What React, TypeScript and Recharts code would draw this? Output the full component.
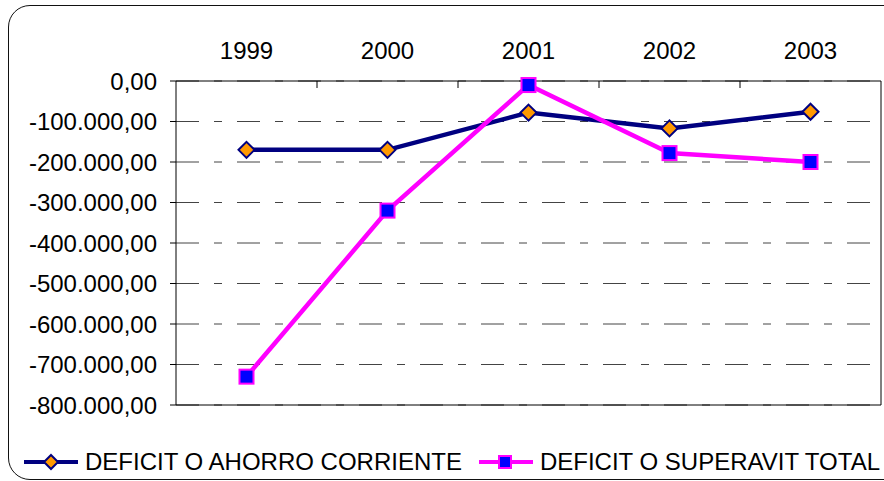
import React from "react";
import { LineChart, Line, XAxis, YAxis, CartesianGrid, Legend, ReferenceLine } from "recharts";

const categories = ["1999", "2000", "2001", "2002", "2003"];
const ahorroCorriente = [-170000, -170000, -78000, -117000, -76000];
const superavitTotal = [-730000, -320000, -10000, -178000, -200000];
const yTicks = [0, -100000, -200000, -300000, -400000, -500000, -600000, -700000, -800000];

const SERIES_A = "DEFICIT O AHORRO CORRIENTE";
const SERIES_B = "DEFICIT O SUPERAVIT TOTAL";

const data = categories.map((year, i) => ({
  year,
  ahorro: ahorroCorriente[i],
  superavit: superavitTotal[i],
}));

const W = 884;
const H = 481;
const FONT = "'Liberation Sans', Arial, sans-serif";
const TOP_MARGIN = 22;

const fmt = (v: number) => {
  const s = Math.abs(v).toFixed(0).replace(/\B(?=(\d{3})+(?!\d))/g, ".");
  return (v < 0 ? "-" : "") + s + ",00";
};

const Diamond = ({ cx, cy, r = 8 }: any) => (
  <path
    d={`M${cx},${cy - r} L${cx + r},${cy} L${cx},${cy + r} L${cx - r},${cy} Z`}
    fill="#FF9900"
    stroke="#000080"
    strokeWidth={2}
  />
);

const Square = ({ cx, cy, r = 7 }: any) => (
  <rect x={cx - r} y={cy - r} width={r * 2} height={r * 2} fill="#0000FF" stroke="#FF00FF" strokeWidth={2} />
);

const TopTick = (props: any) => {
  const { x, y, payload, index } = props;
  const half = payload.offset || (W - 176 - 3) / categories.length / 2;
  const axisY = y + TOP_MARGIN;
  return (
    <g>
      <text x={x} y={y} textAnchor="middle" fontSize={24} fontFamily={FONT} fill="#000">
        {payload.value}
      </text>
      {index < categories.length - 1 && (
        <line x1={x + half} x2={x + half} y1={axisY} y2={axisY + 7} stroke="#000" strokeWidth={1} />
      )}
    </g>
  );
};

const LegendContent = () => {
  const item = (name: string, color: string, marker: React.ReactNode, ml: number) => (
    <div style={{ display: "flex", alignItems: "center", marginLeft: ml, flexShrink: 0 }}>
      <svg width={56} height={24}>
        <line x1={1} x2={55} y1={12} y2={12} stroke={color} strokeWidth={4} />
        {marker}
      </svg>
      <span style={{ marginLeft: 6, fontSize: 24, lineHeight: "24px", fontFamily: FONT, color: "#000", whiteSpace: "nowrap" }}>
        {name}
      </span>
    </div>
  );
  return (
    <div style={{ display: "flex", width: W + 40 }}>
      {item(SERIES_A, "#000080", <Diamond cx={28} cy={12} r={7} />, 23)}
      {item(SERIES_B, "#FF00FF", <Square cx={27} cy={12} r={6} />, 16)}
    </div>
  );
};

export default function App() {
  return (
    <div style={{ position: "fixed", left: 0, top: 0, width: W, height: H, overflow: "hidden", background: "#fff" }}>
      <div
        style={{
          position: "absolute",
          left: 8,
          top: 5,
          width: 920,
          height: 473,
          border: "1.5px solid #111",
          borderRadius: 22,
        }}
      />
      <div style={{ position: "absolute", left: 0, top: 0 }}>
        <LineChart width={W} height={H} data={data} margin={{ top: 0, right: 0, left: 0, bottom: 76 }}>
          <CartesianGrid vertical={false} stroke="#444" strokeDasharray="23 15 8 15" />
          <XAxis
            dataKey="year"
            orientation="top"
            scale="band"
            height={81}
            axisLine={{ stroke: "#000" }}
            tickLine={false}
            tickSize={0}
            tickMargin={TOP_MARGIN}
            tick={<TopTick />}
            interval={0}
          />
          <YAxis
            domain={[-800000, 0]}
            ticks={yTicks}
            width={176}
            interval={0}
            tickFormatter={fmt}
            axisLine={{ stroke: "#000" }}
            tickLine={{ stroke: "#000" }}
            tickSize={6}
            tickMargin={13}
            tick={{ fontSize: 24, fontFamily: FONT, fill: "#000" }}
          />
          <YAxis yAxisId="r" orientation="right" width={3} domain={[0, 1]} tick={false} tickLine={false} axisLine={{ stroke: "#000" }} />
          <ReferenceLine y={-800000} stroke="#000" />
          <Legend
            verticalAlign="middle"
            layout="horizontal"
            wrapperStyle={{ top: 450, left: 0, width: W }}
            content={<LegendContent />}
          />
          <Line
            dataKey="ahorro"
            name={SERIES_A}
            stroke="#000080"
            strokeWidth={4.5}
            dot={(p: any) => <Diamond key={`a${p.index}`} cx={p.cx} cy={p.cy} />}
            isAnimationActive={false}
          />
          <Line
            dataKey="superavit"
            name={SERIES_B}
            stroke="#FF00FF"
            strokeWidth={4.5}
            dot={(p: any) => <Square key={`b${p.index}`} cx={p.cx} cy={p.cy} />}
            isAnimationActive={false}
          />
        </LineChart>
      </div>
    </div>
  );
}
